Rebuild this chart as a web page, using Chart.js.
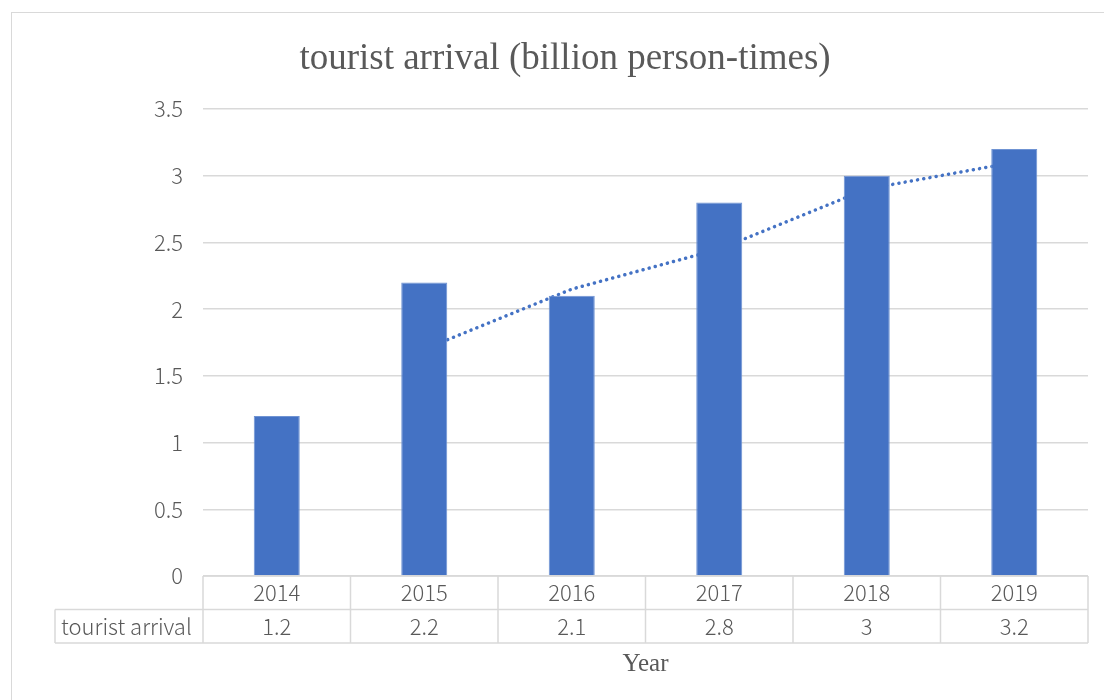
<!DOCTYPE html>
<html>
<head>
<meta charset="utf-8">
<script src="https://cdn.jsdelivr.net/npm/chart.js@4"></script>
<style>
  html, body { margin: 0; padding: 0; background: #fff; overflow: hidden; }
  #wrap { position: relative; width: 1104px; height: 700px; }
  #frame { position: absolute; left: 11px; top: 12px; width: 1120px; height: 720px;
           border: 1.5px solid #d9d9d9; box-sizing: border-box; pointer-events: none; }
  canvas { position: absolute; left: 0; top: 0; }
</style>
</head>
<body>
<div id="wrap">
  <div id="frame"></div>
  <canvas id="arrivalChart" width="1104" height="700"></canvas>
</div>
<script>
const years = ["2014", "2015", "2016", "2017", "2018", "2019"];
const arrivals = [1.2, 2.2, 2.1, 2.8, 3, 3.2];
// 2-period moving average, no value for the first year
const movingAvg = [null, 1.7, 2.15, 2.45, 2.9, 3.1];
const seriesName = "tourist arrival";
const yTicks = [0, 0.5, 1, 1.5, 2, 2.5, 3, 3.5];

const gridColor = "#d9d9d9";
const textColor = "#595959";
const tickFont = { family: "'Noto Sans CJK SC', 'Noto Sans', sans-serif", size: 22, weight: 300 };

// draws the data table under the bars: grid lines, row header and values
const dataTable = {
  id: "dataTable",
  afterDraw(chart) {
    const { ctx, chartArea, scales } = chart;
    const x = scales.x;
    const top = chartArea.bottom;
    const rowH = 33.5;
    const headerLeft = 55;
    const edges = [];
    for (let i = 0; i <= years.length; i++) {
      edges.push(x.getPixelForValue(i - 0.5));
    }
    ctx.save();
    ctx.strokeStyle = gridColor;
    ctx.lineWidth = 1.5;
    ctx.beginPath();
    ctx.moveTo(edges[0], top);
    ctx.lineTo(chartArea.right, top);
    ctx.moveTo(headerLeft, top + rowH);
    ctx.lineTo(chartArea.right, top + rowH);
    ctx.moveTo(headerLeft, top + rowH * 2);
    ctx.lineTo(chartArea.right, top + rowH * 2);
    edges.forEach((ex) => {
      ctx.moveTo(ex, top);
      ctx.lineTo(ex, top + rowH * 2);
    });
    ctx.moveTo(headerLeft, top + rowH);
    ctx.lineTo(headerLeft, top + rowH * 2);
    ctx.stroke();

    ctx.fillStyle = textColor;
    ctx.font = `${tickFont.weight} ${tickFont.size}px ${tickFont.family}`;
    ctx.textBaseline = "middle";
    const rowMid = top + rowH * 1.5;
    ctx.textAlign = "left";
    ctx.fillText(seriesName, headerLeft + 6, rowMid);
    ctx.textAlign = "center";
    arrivals.forEach((v, i) => {
      ctx.fillText(String(v), x.getPixelForValue(i), rowMid);
    });
    ctx.restore();
  },
};

const ctx = document.getElementById("arrivalChart").getContext("2d");
new Chart(ctx, {
  data: {
    labels: years,
    datasets: [
      {
        type: "bar",
        label: seriesName,
        data: arrivals,
        backgroundColor: "#4472c4",
        borderColor: "#6f93d3",
        borderWidth: 1,
        barPercentage: 0.312,
        categoryPercentage: 1,
        order: 1,
      },
      {
        type: "line",
        label: "2 per. Mov. Avg.",
        data: movingAvg,
        borderColor: "#4472c4",
        borderWidth: 3.5,
        borderDash: [0.1, 6.2],
        borderCapStyle: "round",
        pointRadius: 0,
        fill: false,
        tension: 0,
        order: 2,
      },
    ],
  },
  options: {
    responsive: false,
    animation: false,
    layout: { padding: { left: 42, right: 16, top: 0, bottom: 0 } },
    plugins: {
      legend: { display: false },
      tooltip: { enabled: false },
      title: {
        display: true,
        text: "tourist arrival (billion person-times)",
        color: textColor,
        font: { family: "'Liberation Serif', 'Times New Roman', serif", size: 37, weight: "normal" },
        padding: { top: 37, bottom: 27.6 },
      },
    },
    scales: {
      x: {
        grid: { display: false, drawTicks: false },
        border: { display: false },
        ticks: { color: textColor, font: tickFont, padding: 3, maxRotation: 0 },
        title: {
          display: true,
          text: "Year",
          color: textColor,
          font: { family: "'Liberation Serif', 'Times New Roman', serif", size: 25, weight: "normal" },
          padding: { top: 0, bottom: 21 },
        },
        afterFit(scale) {
          scale.height = 124;
        },
      },
      y: {
        min: 0,
        max: 3.5,
        afterBuildTicks(scale) {
          scale.ticks = yTicks.map((v) => ({ value: v }));
        },
        grid: { color: gridColor, lineWidth: 1.5, drawTicks: false },
        border: { display: false },
        ticks: {
          color: textColor,
          font: tickFont,
          padding: 20,
          callback: (v) => String(v),
        },
        afterFit(scale) {
          scale.width = 161;
        },
      },
    },
  },
  plugins: [dataTable],
});
</script>
</body>
</html>
